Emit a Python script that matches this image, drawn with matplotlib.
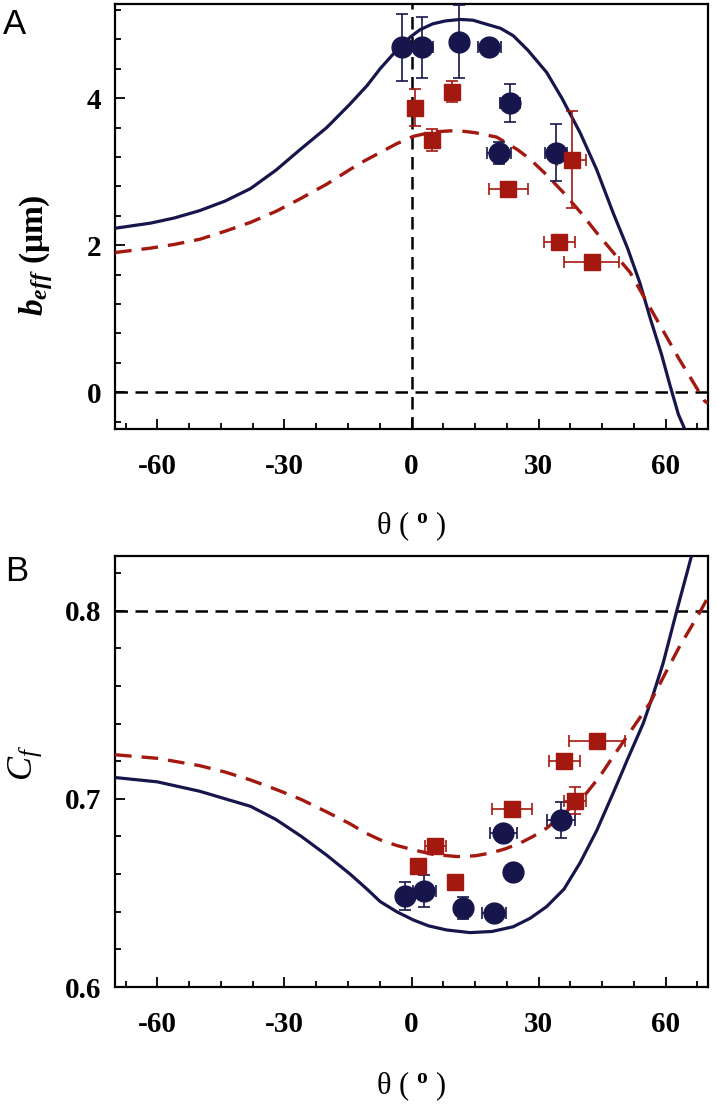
# -*- coding: utf-8 -*-
'''
b_eff and C_f versus theta, two panels
'''

import numpy as np
import matplotlib.pyplot as plt
from matplotlib.ticker import MultipleLocator

plt.rcParams['font.family'] = 'Liberation Serif'
plt.rcParams['axes.unicode_minus'] = False
plt.rcParams['mathtext.fontset'] = 'custom'
plt.rcParams['mathtext.rm'] = 'Liberation Serif'
plt.rcParams['mathtext.it'] = 'Liberation Serif:italic'
plt.rcParams['mathtext.bf'] = 'Liberation Serif:bold'
plt.rcParams['mathtext.bfit'] = 'Liberation Serif:italic:bold'

navy = '#16164c'
darkred = '#a3180f'

'''
data read off the figure
'''

# panel A: model curves
a_blue_theta = [-70, -61.6, -56, -50, -44, -38, -32, -26.3, -20, -14.5, -10.5, -7.4, -4, -0.3, 2, 5, 8, 11.5,
                14.5, 18, 21, 24, 27.5, 31.9, 35.5, 39.8, 43.7, 47.6, 51, 53.9, 56.5, 59, 61, 63, 64.5]
a_blue_beff = [2.23, 2.30, 2.37, 2.47, 2.60, 2.77, 3.02, 3.30, 3.60, 3.92, 4.17, 4.40, 4.62, 4.83, 4.93, 5.01, 5.05, 5.07,
               5.06, 5.0, 4.95, 4.85, 4.65, 4.35, 4.0, 3.53, 3.03, 2.44, 1.96, 1.49, 0.98, 0.52, 0.1, -0.3, -0.5]
a_red_theta = [-70, -61.6, -56, -50, -44, -38, -32, -26.3, -20, -14.5, -11, -7.4, -3.5, 0.45, 5, 10.7, 15, 20.1,
               25, 28, 32, 35.8, 40, 43.7, 47.5, 51.6, 57, 63.2, 69.2, 70]
a_red_beff = [1.90, 1.96, 2.01, 2.08, 2.19, 2.31, 2.46, 2.63, 2.83, 3.03, 3.15, 3.26, 3.38, 3.48, 3.54, 3.56, 3.53, 3.47,
              3.30, 3.17, 2.95, 2.72, 2.44, 2.17, 1.91, 1.63, 1.08, 0.45, -0.12, -0.15]

# panel A: measurements (circles / squares)
a_circ_theta = [-2.3, 2.4, 11.3, 18.4, 23.3, 20.7, 34.1]
a_circ_beff = [4.69, 4.69, 4.77, 4.69, 3.93, 3.25, 3.26]
a_circ_xerr = [0, 2.6, 0, 2.75, 2.3, 2.9, 2.7]
a_circ_yerr = [0.46, 0.41, 0.49, 0.08, 0.26, 0.15, 0.39]
a_sq_theta = [0.85, 9.5, 4.8, 22.9, 37.8, 34.9, 42.5]
a_sq_beff = [3.87, 4.09, 3.43, 2.76, 3.16, 2.04, 1.77]
a_sq_xerr = [0, 0, 1.7, 4.7, 3.5, 3.7, 6.4]
a_sq_yerr = [0.25, 0.14, 0.15, 0.08, 0.66, 0, 0]

# panel B: model curves
b_blue_theta = [-70, -60, -50, -44, -38, -32, -26, -20, -14.5, -10.5, -7.4, -3.5, 0.45, 4, 8.3, 13.8, 19, 24, 28,
                31.9, 36, 39.8, 43.7, 47.6, 49.5, 51, 54.7, 57, 59.4, 62.6, 66.1]
b_blue_cf = [0.7113, 0.709, 0.704, 0.700, 0.696, 0.689, 0.680, 0.670, 0.660, 0.652, 0.6454, 0.640, 0.6356, 0.6325,
             0.6303, 0.6289, 0.6295, 0.632, 0.6365, 0.6427, 0.652, 0.666, 0.683, 0.703, 0.713, 0.721, 0.740, 0.755,
             0.772, 0.7997, 0.829]
b_red_theta = [-70, -60, -50, -44, -38, -32, -26, -20, -14.5, -11, -7.4, -3.5, 0.45, 5, 10.7, 15, 18.5, 22, 25.6,
               28.7, 31.9, 36, 41.3, 44.5, 47.6, 52, 56.3, 60, 63.3, 66, 68.1, 70]
b_red_cf = [0.7234, 0.7215, 0.7176, 0.7142, 0.710, 0.705, 0.6996, 0.693, 0.6867, 0.682, 0.6782, 0.6752, 0.6729,
            0.6705, 0.6693, 0.6697, 0.6711, 0.6733, 0.6764, 0.680, 0.6844, 0.692, 0.703, 0.712, 0.7225, 0.7368,
            0.7509, 0.767, 0.781, 0.7912, 0.7993, 0.807]

# panel B: measurements
b_circ_theta = [-1.5, 3.0, 12.1, 19.5, 24.0, 21.7, 35.3]
b_circ_cf = [0.6484, 0.651, 0.642, 0.6395, 0.661, 0.6818, 0.6888]
b_circ_xerr = [0, 2.7, 1.2, 2.9, 1.7, 3.1, 3.3]
b_circ_yerr = [0.0073, 0.0087, 0.006, 0.002, 0.004, 0.003, 0.0095]
b_sq_theta = [1.5, 5.6, 10.3, 23.7, 38.6, 36.1, 43.8]
b_sq_cf = [0.6644, 0.675, 0.656, 0.6945, 0.699, 0.7202, 0.7309]
b_sq_xerr = [0, 2.5, 0, 4.8, 2.5, 3.7, 6.5]
b_sq_yerr = [0, 0.003, 0, 0, 0.0073, 0, 0]

'''
figure
'''

fig = plt.figure(figsize = (7.16, 11.08), dpi = 100)
axA = fig.add_axes([115 / 716, 1 - 429 / 1108, 593 / 716, 425 / 1108])
axB = fig.add_axes([115 / 716, 1 - 987 / 1108, 593 / 716, 431 / 1108])

def style_axes(ax):
    for s in ax.spines.values():
        s.set_linewidth(1.6)
    ax.tick_params(which = 'both', direction = 'in', top = False, right = False, width = 1.3)
    ax.tick_params(which = 'major', length = 7)
    ax.tick_params(which = 'minor', length = 4.5)
    ax.tick_params(axis = 'x', pad = 17)
    ax.tick_params(axis = 'y', pad = 10)
    ax.set_xlim(-70, 70)
    ax.xaxis.set_major_locator(MultipleLocator(30))
    ax.xaxis.set_minor_locator(MultipleLocator(7.5))
    for lab in ax.get_xticklabels() + ax.get_yticklabels():
        lab.set_fontweight('bold')
        lab.set_fontsize(21)
    ax.set_xlabel(r'θ ( $^{\mathbf{o}}$ )', fontsize = 22)

def draw_panel(ax, bt, by, rt, ry, ct, cy, cxe, cye, st, sy, sxe, sye):
    ax.plot(bt, by, color = navy, lw = 2.3, zorder = 3)
    ax.plot(rt, ry, color = darkred, lw = 2.4, dashes = (5, 3), zorder = 3)
    ax.errorbar(ct, cy, xerr = cxe, yerr = cye, fmt = 'o', ms = 15, color = navy,
                ecolor = navy, elinewidth = 1.2, capsize = 4.5, capthick = 1.2, zorder = 4)
    ax.errorbar(st, sy, xerr = sxe, yerr = sye, fmt = 's', ms = 11.5, color = darkred,
                ecolor = darkred, elinewidth = 1.2, capsize = 4.5, capthick = 1.2, zorder = 4)

# panel A
axA.axhline(0, color = 'black', ls = '--', lw = 1.8, dashes = (5, 3), zorder = 2)
axA.axvline(0, color = 'black', ls = '--', lw = 1.8, dashes = (5, 3), zorder = 2)
draw_panel(axA, a_blue_theta, a_blue_beff, a_red_theta, a_red_beff,
           a_circ_theta, a_circ_beff, a_circ_xerr, a_circ_yerr,
           a_sq_theta, a_sq_beff, a_sq_xerr, a_sq_yerr)
axA.set_ylim(-0.5, 5.28)
axA.yaxis.set_major_locator(MultipleLocator(2))
axA.yaxis.set_minor_locator(MultipleLocator(0.4))
style_axes(axA)
axA.set_ylabel(r'$\mathbfit{b}_{\mathbfit{eff}}$ (μm)', fontsize = 24, fontweight = 'bold')
axA.yaxis.set_label_coords(-0.101, 0.41)
axA.xaxis.set_label_coords(0.5, -0.19)

# panel B
axB.axhline(0.8, color = 'black', ls = '--', lw = 1.8, dashes = (5, 3), zorder = 2)
draw_panel(axB, b_blue_theta, b_blue_cf, b_red_theta, b_red_cf,
           b_circ_theta, b_circ_cf, b_circ_xerr, b_circ_yerr,
           b_sq_theta, b_sq_cf, b_sq_xerr, b_sq_yerr)
axB.set_ylim(0.6, 0.829)
axB.yaxis.set_major_locator(MultipleLocator(0.1))
axB.yaxis.set_minor_locator(MultipleLocator(0.02))
axB.yaxis.set_major_formatter(plt.FuncFormatter(lambda v, p: '%.1f' % v))
style_axes(axB)
axB.set_ylabel(r'$\mathit{C}_{\mathit{f}}$', fontsize = 26)
axB.yaxis.set_label_coords(-0.12, 0.52)
axB.xaxis.set_label_coords(0.5, -0.192)

# panel letters
fig.text(3 / 716, 1 - 8 / 1108, 'A', family = 'Liberation Sans', fontsize = 25, va = 'top', ha = 'left')
fig.text(5 / 716, 1 - 555 / 1108, 'B', family = 'Liberation Sans', fontsize = 25, va = 'top', ha = 'left')

fig.savefig('out.png', dpi = 100)
